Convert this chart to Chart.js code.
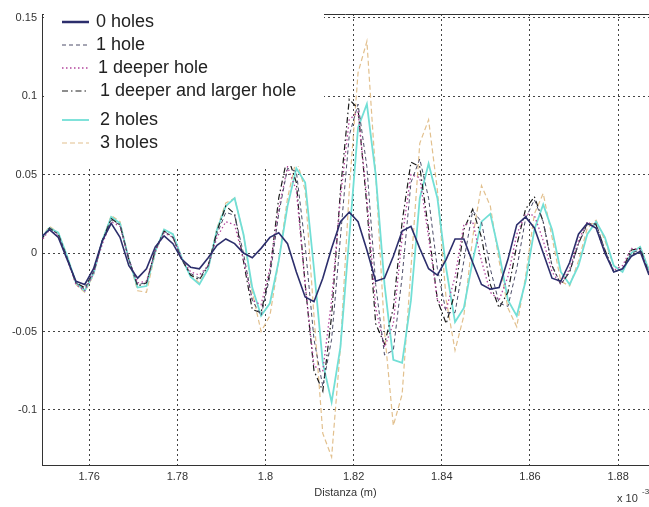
<!DOCTYPE html>
<html>
<head>
<meta charset="utf-8">
<script src="https://cdn.jsdelivr.net/npm/chart.js@4.4.0/dist/chart.umd.min.js"></script>
<style>
html, body { margin: 0; padding: 0; background: #fff; }
#wrap { width: 649px; height: 507px; position: relative; }
</style>
</head>
<body>
<div id="wrap"><canvas id="mycanvas" width="649" height="507"></canvas></div>
<script>
// distance samples (x 10^-3 m)
var distanza = [
	1.749, 1.751, 1.753, 1.755, 1.757, 1.759, 1.761, 1.763, 1.765, 1.767,
	1.769, 1.771, 1.773, 1.775, 1.777, 1.779, 1.781, 1.783, 1.785, 1.787,
	1.789, 1.791, 1.793, 1.795, 1.797, 1.799, 1.801, 1.803, 1.805, 1.807,
	1.809, 1.811, 1.813, 1.815, 1.817, 1.819, 1.821, 1.823, 1.825, 1.827,
	1.829, 1.831, 1.833, 1.835, 1.837, 1.839, 1.841, 1.843, 1.845, 1.847,
	1.849, 1.851, 1.853, 1.855, 1.857, 1.859, 1.861, 1.863, 1.865, 1.867,
	1.869, 1.871, 1.873, 1.875, 1.877, 1.879, 1.881, 1.883, 1.885, 1.887,
	1.889
];

var holes0 = [
	0.010, 0.015, 0.010, -0.004, -0.018, -0.020, -0.010, 0.008, 0.019, 0.010,
	-0.008, -0.016, -0.010, 0.004, 0.011, 0.006, -0.004, -0.009, -0.010, -0.003,
	0.005, 0.009, 0.006, 0.000, -0.003, 0.003, 0.010, 0.013, 0.006, -0.012,
	-0.028, -0.031, -0.016, 0.003, 0.020, 0.026, 0.020, 0.002, -0.018, -0.016,
	-0.002, 0.014, 0.017, 0.003, -0.010, -0.014, -0.004, 0.009, 0.009, -0.006,
	-0.020, -0.023, -0.022, -0.004, 0.018, 0.023, 0.016, 0.000, -0.016, -0.018,
	-0.006, 0.012, 0.019, 0.016, 0.000, -0.012, -0.010, -0.002, 0.001, -0.014,
	-0.022
];

var hole1 = [
	0.008, 0.016, 0.012, -0.003, -0.019, -0.023, -0.012, 0.008, 0.021, 0.018,
	-0.004, -0.020, -0.019, 0.002, 0.014, 0.010, -0.004, -0.013, -0.016, -0.008,
	0.012, 0.026, 0.024, 0.000, -0.030, -0.040, -0.015, 0.025, 0.054, 0.052,
	0.005, -0.055, -0.085, -0.055, 0.010, 0.075, 0.095, 0.055, -0.020, -0.065,
	-0.062, -0.015, 0.045, 0.060, 0.035, -0.010, -0.038, -0.038, -0.005, 0.027,
	0.020, -0.010, -0.032, -0.034, -0.010, 0.022, 0.034, 0.020, -0.008, -0.020,
	-0.012, 0.006, 0.018, 0.019, 0.002, -0.012, -0.010, 0.000, 0.002, -0.013,
	-0.020
];

var deeperHole = [
	0.007, 0.015, 0.011, -0.004, -0.020, -0.024, -0.013, 0.006, 0.020, 0.017,
	-0.004, -0.019, -0.018, 0.001, 0.013, 0.010, -0.003, -0.012, -0.014, -0.008,
	0.010, 0.020, 0.018, -0.004, -0.030, -0.033, -0.010, 0.028, 0.055, 0.040,
	-0.020, -0.072, -0.075, -0.030, 0.035, 0.085, 0.090, 0.035, -0.035, -0.060,
	-0.045, 0.010, 0.050, 0.048, 0.010, -0.030, -0.036, -0.015, 0.018, 0.020,
	-0.005, -0.025, -0.030, -0.015, 0.012, 0.025, 0.024, 0.008, -0.012, -0.020,
	-0.010, 0.008, 0.020, 0.016, 0.000, -0.011, -0.008, 0.003, 0.002, -0.013,
	-0.020
];

var deeperLargerHole = [
	0.008, 0.016, 0.012, -0.003, -0.019, -0.022, -0.012, 0.008, 0.022, 0.018,
	-0.004, -0.021, -0.019, 0.002, 0.014, 0.010, -0.004, -0.014, -0.017, -0.008,
	0.014, 0.030, 0.025, -0.005, -0.036, -0.038, -0.012, 0.035, 0.062, 0.045,
	-0.020, -0.075, -0.088, -0.040, 0.040, 0.098, 0.092, 0.030, -0.045, -0.058,
	-0.035, 0.020, 0.058, 0.055, 0.015, -0.030, -0.045, -0.025, 0.015, 0.028,
	0.010, -0.020, -0.035, -0.025, 0.005, 0.028, 0.036, 0.020, -0.008, -0.020,
	-0.012, 0.006, 0.019, 0.018, 0.002, -0.012, -0.010, 0.002, 0.003, -0.013,
	-0.020
];

var holes2 = [
	0.009, 0.016, 0.013, -0.002, -0.019, -0.024, -0.013, 0.008, 0.023, 0.019,
	-0.004, -0.022, -0.021, 0.001, 0.015, 0.012, -0.003, -0.015, -0.020, -0.010,
	0.015, 0.030, 0.035, 0.012, -0.022, -0.040, -0.032, -0.005, 0.030, 0.054,
	0.045, -0.010, -0.070, -0.095, -0.060, 0.010, 0.080, 0.095, 0.050, -0.020,
	-0.068, -0.070, -0.030, 0.035, 0.057, 0.035, -0.010, -0.044, -0.035, -0.005,
	0.020, 0.025, 0.000, -0.030, -0.040, -0.018, 0.015, 0.031, 0.015, -0.012,
	-0.020, -0.008, 0.012, 0.020, 0.010, -0.008, -0.012, 0.000, 0.004, -0.011,
	-0.018
];

var holes3 = [
	0.009, 0.017, 0.013, -0.002, -0.020, -0.025, -0.014, 0.008, 0.024, 0.020,
	-0.004, -0.024, -0.025, 0.000, 0.015, 0.012, -0.003, -0.014, -0.019, -0.010,
	0.016, 0.032, 0.035, 0.012, -0.025, -0.050, -0.040, -0.005, 0.035, 0.060,
	0.040, -0.040, -0.115, -0.130, -0.060, 0.040, 0.115, 0.135, 0.050, -0.050,
	-0.110, -0.090, -0.010, 0.070, 0.085, 0.040, -0.030, -0.062, -0.040, 0.010,
	0.043, 0.030, -0.005, -0.035, -0.047, -0.015, 0.025, 0.038, 0.010, -0.018,
	-0.021, -0.005, 0.016, 0.021, 0.008, -0.008, -0.012, 0.000, 0.004, -0.011,
	-0.018
];

var seriesNames = ['0 holes', '1 hole', '1 deeper hole', '1 deeper and larger hole', '2 holes', '3 holes'];
var xTicks = [1.76, 1.78, 1.80, 1.82, 1.84, 1.86, 1.88];
var yTicks = [-0.1, -0.05, 0, 0.05, 0.1, 0.15];

function pts(ys) {
	var out = [];
	for (var i in ys) {
		out.push({x: distanza[i], y: ys[i]});
	}
	return out;
}

function fmt(v) {
	return String(Number(v.toFixed(4)));
}

var chartdata = {
	datasets: [
		{label: seriesNames[0], data: pts(holes0), borderColor: '#2c2e6c', borderWidth: 1.6},
		{label: seriesNames[1], data: pts(hole1), borderColor: '#4c4c68', borderWidth: 1, borderDash: [4, 3]},
		{label: seriesNames[2], data: pts(deeperHole), borderColor: '#b2449c', borderWidth: 1.3, borderDash: [1.5, 2.5]},
		{label: seriesNames[3], data: pts(deeperLargerHole), borderColor: '#1c1c1c', borderWidth: 1.2, borderDash: [6, 3, 1.5, 3]},
		{label: seriesNames[4], data: pts(holes2), borderColor: '#72dfd6', borderWidth: 1.8},
		{label: seriesNames[5], data: pts(holes3), borderColor: '#e2c08e', borderWidth: 1.2, borderDash: [5, 3]}
	]
};

// legend box, top frame line and the exponent note, MATLAB style
var decor = {
	id: 'decor',
	afterDatasetsDraw: function(chart) {
		var ctx = chart.ctx, a = chart.chartArea;
		ctx.save();
		ctx.strokeStyle = '#333';
		ctx.lineWidth = 1;
		ctx.beginPath();
		ctx.moveTo(a.left, a.top + 0.5);
		ctx.lineTo(a.right, a.top + 0.5);
		ctx.stroke();

		ctx.fillStyle = '#fff';
		ctx.fillRect(44, 0, 280, 166);

		var rowY = [22, 45, 68, 91, 120, 143];
		var textX = [96, 96, 98, 100, 100, 100];
		ctx.font = '18px "Liberation Sans", Arial, sans-serif';
		ctx.textBaseline = 'middle';
		ctx.textAlign = 'left';
		chart.data.datasets.forEach(function(ds, i) {
			ctx.save();
			ctx.strokeStyle = ds.borderColor;
			ctx.lineWidth = i === 0 ? 2.5 : ds.borderWidth;
			ctx.setLineDash(ds.borderDash || []);
			ctx.beginPath();
			ctx.moveTo(62, rowY[i]);
			ctx.lineTo(89, rowY[i]);
			ctx.stroke();
			ctx.restore();
			ctx.fillStyle = '#222';
			ctx.fillText(ds.label, textX[i], rowY[i]);
		});

		ctx.font = '11px "Liberation Sans", Arial, sans-serif';
		ctx.fillStyle = '#333';
		ctx.fillText('x 10', 617, 499);
		ctx.font = '8px "Liberation Sans", Arial, sans-serif';
		ctx.fillText('-3', 642, 492);
		ctx.restore();
	}
};

Chart.defaults.font.family = '"Liberation Sans", Arial, sans-serif';
Chart.defaults.color = '#333';

var ctx = document.getElementById('mycanvas');
var linegraph = new Chart(ctx, {
	type: 'line',
	data: chartdata,
	options: {
		responsive: false,
		animation: false,
		devicePixelRatio: 1,
		layout: {padding: {top: 14, right: 0, bottom: 0, left: 0}},
		elements: {
			point: {radius: 0},
			line: {tension: 0, fill: false}
		},
		plugins: {
			legend: {display: false},
			tooltip: {enabled: false}
		},
		scales: {
			x: {
				type: 'linear',
				min: 1.7493,
				max: 1.887,
				afterBuildTicks: function(scale) {
					scale.ticks = xTicks.map(function(v) { return {value: v}; });
				},
				afterFit: function(scale) { scale.height = 42; },
				ticks: {
					font: {size: 11},
					padding: 5,
					maxRotation: 0,
					callback: function(v) { return fmt(v); }
				},
				grid: {color: '#444', lineWidth: 1, drawTicks: false},
				border: {display: true, color: '#333', width: 1, dash: [2, 3]},
				title: {display: true, text: 'Distanza (m)', font: {size: 11}, padding: {top: 0, bottom: 7}}
			},
			y: {
				min: -0.1351,
				max: 0.1524,
				afterBuildTicks: function(scale) {
					scale.ticks = yTicks.map(function(v) { return {value: v}; });
				},
				afterFit: function(scale) { scale.width = 42; },
				ticks: {
					font: {size: 11},
					padding: 5,
					callback: function(v) { return fmt(v); }
				},
				grid: {color: '#444', lineWidth: 1, drawTicks: false},
				border: {display: true, color: '#333', width: 1, dash: [2, 3]}
			}
		}
	},
	plugins: [decor]
});
</script>
</body>
</html>
